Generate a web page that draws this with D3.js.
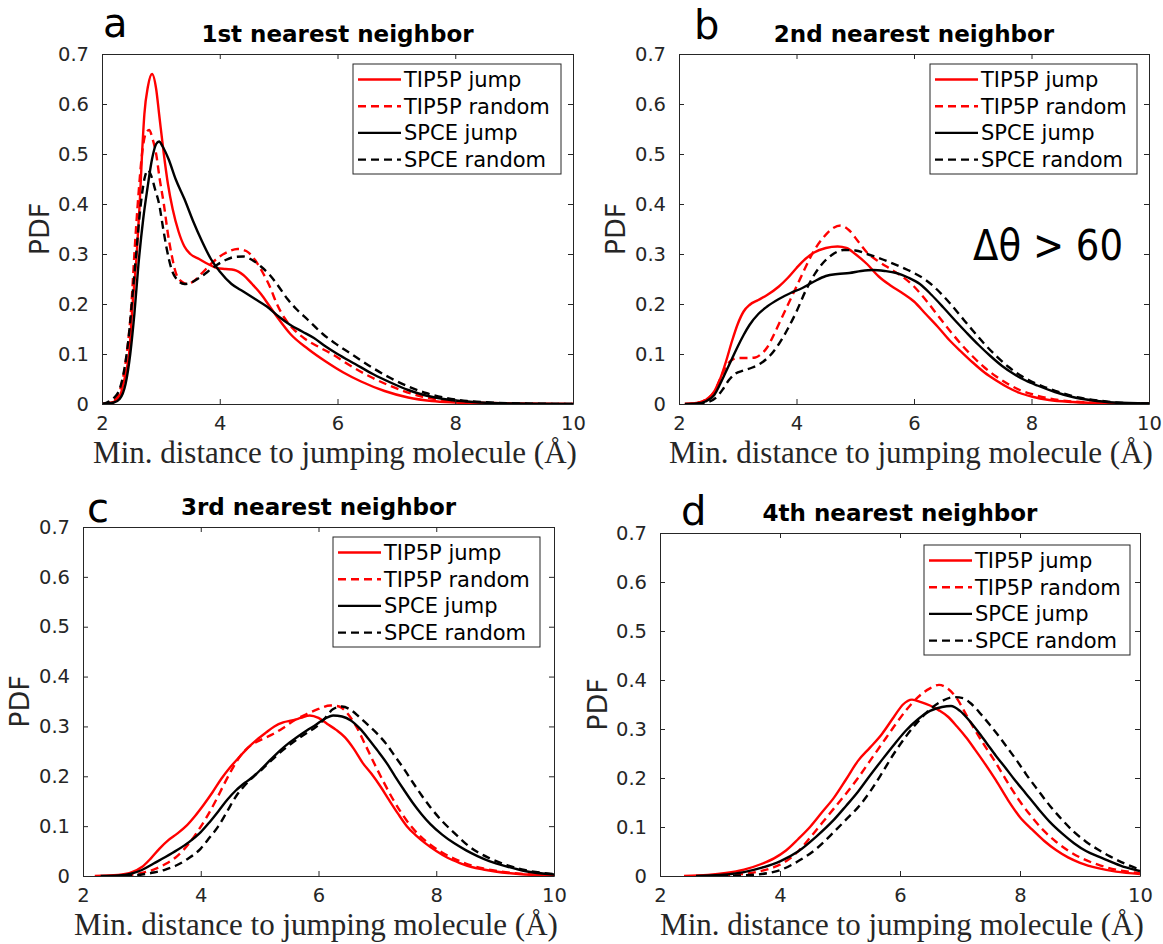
<!DOCTYPE html>
<html>
<head>
<meta charset="utf-8">
<script src="https://cdn.jsdelivr.net/npm/d3@7"></script>
<style>
  html, body { margin: 0; padding: 0; background: #fff; }
  svg { display: block; }
</style>
</head>
<body>
<svg id="chart" width="1163" height="944"></svg>
<script>
// ---------------- DATA ----------------
const seriesNames = ["TIP5P jump", "TIP5P random", "SPCE jump", "SPCE random"];
const panelTitles = ["1st nearest neighbor", "2nd nearest neighbor", "3rd nearest neighbor", "4th nearest neighbor"];
const panelLetters = ["a", "b", "c", "d"];
const xTicks = [2, 4, 6, 8, 10];
const yTicks = [0, 0.1, 0.2, 0.3, 0.4, 0.5, 0.6, 0.7];
const xLabel = "Min. distance to jumping molecule (Å)";
const yLabel = "PDF";
const annotationB = "Δθ > 60";

// panel a: 1st nearest neighbor  [distance Å, PDF]
const aTip5pJump = [[2.0,0],[2.2,0.004],[2.3,0.015],[2.4,0.06],[2.46,0.1],[2.52,0.2],[2.59,0.3],[2.64,0.4],[2.68,0.5],[2.72,0.58],[2.78,0.635],[2.85,0.66],[2.92,0.63],[2.97,0.58],[3.05,0.5],[3.12,0.44],[3.2,0.39],[3.3,0.345],[3.4,0.315],[3.5,0.3],[3.65,0.29],[3.8,0.28],[3.95,0.272],[4.1,0.27],[4.25,0.268],[4.4,0.258],[4.55,0.24],[4.7,0.22],[4.85,0.195],[5.0,0.17],[5.2,0.14],[5.5,0.11],[5.8,0.085],[6.1,0.063],[6.4,0.045],[6.8,0.026],[7.2,0.013],[7.6,0.006],[8.0,0.003],[8.5,0.001],[9.0,0.0004],[10,0]];
const aTip5pRandom = [[2.0,0],[2.2,0.006],[2.3,0.025],[2.37,0.06],[2.42,0.1],[2.5,0.2],[2.55,0.3],[2.62,0.42],[2.68,0.5],[2.74,0.54],[2.8,0.548],[2.86,0.53],[2.92,0.5],[2.98,0.45],[3.05,0.4],[3.12,0.34],[3.18,0.3],[3.26,0.26],[3.35,0.245],[3.45,0.24],[3.55,0.245],[3.7,0.262],[3.85,0.28],[4.0,0.295],[4.15,0.305],[4.3,0.31],[4.45,0.306],[4.6,0.288],[4.72,0.265],[4.85,0.235],[4.97,0.2],[5.1,0.172],[5.25,0.15],[5.45,0.13],[5.7,0.113],[5.95,0.097],[6.2,0.078],[6.5,0.058],[6.8,0.041],[7.1,0.027],[7.4,0.016],[7.8,0.008],[8.2,0.004],[8.6,0.002],[9.2,0.0005],[10,0]];
const aSpceJump = [[2.0,0],[2.2,0.003],[2.3,0.01],[2.4,0.04],[2.48,0.1],[2.55,0.18],[2.62,0.28],[2.7,0.37],[2.77,0.43],[2.85,0.49],[2.92,0.52],[2.97,0.525],[3.03,0.515],[3.13,0.49],[3.25,0.45],[3.4,0.41],[3.55,0.365],[3.7,0.325],[3.85,0.29],[4.0,0.265],[4.2,0.24],[4.4,0.225],[4.6,0.21],[4.8,0.195],[5.0,0.175],[5.2,0.158],[5.4,0.145],[5.6,0.132],[5.8,0.115],[6.0,0.1],[6.3,0.08],[6.6,0.06],[6.9,0.043],[7.2,0.028],[7.5,0.017],[7.8,0.01],[8.2,0.005],[8.6,0.002],[9.2,0.0007],[10,0]];
const aSpceRandom = [[2.0,0],[2.1,0.004],[2.2,0.012],[2.3,0.03],[2.38,0.07],[2.45,0.13],[2.52,0.22],[2.58,0.3],[2.65,0.39],[2.72,0.45],[2.78,0.468],[2.84,0.455],[2.9,0.43],[2.97,0.4],[3.04,0.35],[3.1,0.31],[3.18,0.27],[3.28,0.248],[3.4,0.24],[3.5,0.242],[3.65,0.252],[3.8,0.265],[3.95,0.278],[4.1,0.288],[4.25,0.294],[4.4,0.295],[4.55,0.288],[4.7,0.275],[4.85,0.258],[5.0,0.235],[5.15,0.21],[5.3,0.19],[5.5,0.168],[5.75,0.14],[6.0,0.118],[6.3,0.095],[6.6,0.072],[6.9,0.052],[7.2,0.035],[7.5,0.022],[7.8,0.013],[8.2,0.006],[8.6,0.003],[9.2,0.001],[10,0]];

// panel b: 2nd nearest neighbor
const bTip5pJump = [[2.1,0],[2.3,0.002],[2.45,0.008],[2.6,0.025],[2.7,0.05],[2.8,0.085],[2.9,0.125],[3.0,0.16],[3.1,0.185],[3.2,0.198],[3.35,0.208],[3.5,0.218],[3.7,0.235],[3.85,0.252],[4.0,0.272],[4.15,0.29],[4.3,0.303],[4.5,0.312],[4.7,0.315],[4.85,0.312],[5.0,0.3],[5.2,0.28],[5.4,0.255],[5.6,0.237],[5.8,0.222],[6.0,0.205],[6.2,0.18],[6.4,0.155],[6.6,0.128],[6.8,0.105],[7.0,0.083],[7.2,0.063],[7.4,0.047],[7.6,0.033],[7.8,0.022],[8.0,0.015],[8.3,0.008],[8.7,0.004],[9.2,0.0015],[10,0]];
const bTip5pRandom = [[2.1,0],[2.3,0.002],[2.45,0.008],[2.6,0.025],[2.7,0.05],[2.8,0.075],[2.9,0.088],[3.0,0.092],[3.15,0.092],[3.3,0.093],[3.4,0.1],[3.5,0.113],[3.6,0.135],[3.7,0.16],[3.8,0.185],[3.9,0.21],[4.0,0.235],[4.1,0.26],[4.2,0.285],[4.3,0.307],[4.45,0.332],[4.6,0.35],[4.75,0.357],[4.9,0.347],[5.05,0.325],[5.2,0.303],[5.4,0.285],[5.6,0.27],[5.8,0.255],[6.0,0.235],[6.2,0.208],[6.4,0.178],[6.6,0.148],[6.8,0.12],[7.0,0.095],[7.2,0.073],[7.4,0.055],[7.6,0.04],[7.8,0.028],[8.0,0.02],[8.3,0.011],[8.7,0.005],[9.2,0.002],[10,0]];
const bSpceJump = [[2.1,0],[2.3,0.001],[2.45,0.005],[2.6,0.018],[2.7,0.04],[2.8,0.065],[2.9,0.09],[3.0,0.115],[3.1,0.138],[3.2,0.158],[3.35,0.18],[3.5,0.195],[3.7,0.21],[3.9,0.222],[4.1,0.232],[4.3,0.245],[4.5,0.256],[4.7,0.26],[4.9,0.262],[5.1,0.266],[5.3,0.268],[5.5,0.266],[5.7,0.262],[5.9,0.253],[6.1,0.24],[6.3,0.218],[6.5,0.193],[6.7,0.167],[6.9,0.142],[7.1,0.118],[7.3,0.096],[7.5,0.076],[7.7,0.06],[7.9,0.047],[8.1,0.037],[8.4,0.024],[8.7,0.014],[9.0,0.008],[9.4,0.003],[10,0.001]];
const bSpceRandom = [[2.3,0],[2.5,0.004],[2.65,0.015],[2.75,0.03],[2.85,0.048],[2.95,0.06],[3.1,0.067],[3.25,0.073],[3.4,0.082],[3.55,0.097],[3.7,0.12],[3.85,0.15],[4.0,0.185],[4.15,0.225],[4.3,0.258],[4.45,0.282],[4.6,0.298],[4.8,0.308],[5.0,0.307],[5.2,0.3],[5.4,0.292],[5.6,0.283],[5.8,0.273],[6.0,0.262],[6.2,0.248],[6.4,0.228],[6.6,0.203],[6.8,0.175],[7.0,0.147],[7.2,0.12],[7.4,0.096],[7.6,0.075],[7.8,0.058],[8.0,0.045],[8.2,0.035],[8.5,0.023],[8.8,0.013],[9.2,0.006],[9.6,0.002],[10,0.001]];

// panel c: 3rd nearest neighbor
const cTip5pJump = [[2.2,0],[2.6,0.002],[2.8,0.006],[3.0,0.018],[3.15,0.035],[3.3,0.055],[3.45,0.072],[3.6,0.085],[3.75,0.1],[3.9,0.12],[4.05,0.143],[4.2,0.168],[4.35,0.195],[4.5,0.218],[4.65,0.238],[4.8,0.257],[4.95,0.273],[5.1,0.287],[5.25,0.3],[5.4,0.308],[5.55,0.312],[5.7,0.317],[5.85,0.322],[6.0,0.317],[6.15,0.305],[6.3,0.293],[6.45,0.278],[6.6,0.255],[6.75,0.227],[6.9,0.205],[7.05,0.18],[7.2,0.152],[7.35,0.125],[7.5,0.1],[7.65,0.082],[7.8,0.067],[8.0,0.05],[8.2,0.036],[8.4,0.026],[8.6,0.018],[8.8,0.013],[9.0,0.009],[9.4,0.004],[10,0.001]];
const cTip5pRandom = [[2.5,0],[2.8,0.002],[3.0,0.006],[3.2,0.013],[3.4,0.024],[3.6,0.04],[3.8,0.065],[3.95,0.09],[4.1,0.118],[4.25,0.15],[4.4,0.185],[4.55,0.218],[4.7,0.245],[4.85,0.262],[5.0,0.272],[5.2,0.283],[5.4,0.297],[5.6,0.313],[5.8,0.325],[6.0,0.335],[6.2,0.342],[6.35,0.34],[6.5,0.325],[6.65,0.298],[6.8,0.262],[6.95,0.225],[7.1,0.19],[7.25,0.157],[7.4,0.128],[7.55,0.103],[7.7,0.083],[7.9,0.063],[8.1,0.047],[8.3,0.035],[8.5,0.025],[8.8,0.015],[9.1,0.009],[9.5,0.004],[10,0.001]];
const cSpceJump = [[2.3,0],[2.6,0.001],[2.8,0.004],[3.0,0.012],[3.2,0.025],[3.4,0.038],[3.6,0.052],[3.8,0.068],[4.0,0.088],[4.15,0.108],[4.3,0.13],[4.45,0.153],[4.6,0.172],[4.75,0.187],[4.9,0.2],[5.05,0.217],[5.2,0.235],[5.35,0.252],[5.5,0.267],[5.65,0.28],[5.8,0.292],[5.95,0.303],[6.1,0.315],[6.25,0.322],[6.4,0.32],[6.55,0.312],[6.7,0.296],[6.85,0.275],[7.0,0.252],[7.15,0.228],[7.3,0.2],[7.45,0.173],[7.6,0.147],[7.75,0.124],[7.9,0.104],[8.1,0.083],[8.3,0.066],[8.5,0.052],[8.7,0.04],[8.9,0.03],[9.2,0.019],[9.5,0.01],[10,0.003]];
const cSpceRandom = [[2.7,0],[3.0,0.003],[3.2,0.007],[3.4,0.013],[3.6,0.022],[3.8,0.036],[4.0,0.055],[4.15,0.077],[4.3,0.1],[4.45,0.13],[4.6,0.16],[4.75,0.182],[4.9,0.2],[5.05,0.215],[5.2,0.232],[5.35,0.248],[5.5,0.262],[5.65,0.275],[5.8,0.287],[5.95,0.298],[6.1,0.315],[6.25,0.335],[6.4,0.34],[6.55,0.333],[6.7,0.318],[6.85,0.302],[7.0,0.285],[7.15,0.265],[7.3,0.24],[7.45,0.215],[7.6,0.188],[7.75,0.162],[7.9,0.138],[8.1,0.11],[8.3,0.087],[8.5,0.065],[8.7,0.048],[8.9,0.036],[9.2,0.022],[9.5,0.012],[10,0.004]];

// panel d: 4th nearest neighbor
const dTip5pJump = [[2.4,0],[2.8,0.002],[3.1,0.006],[3.4,0.013],[3.7,0.025],[3.9,0.036],[4.1,0.052],[4.3,0.075],[4.5,0.1],[4.7,0.13],[4.9,0.16],[5.1,0.197],[5.3,0.235],[5.5,0.262],[5.7,0.29],[5.9,0.325],[6.05,0.35],[6.2,0.36],[6.35,0.355],[6.5,0.348],[6.65,0.338],[6.8,0.325],[6.95,0.305],[7.1,0.283],[7.25,0.258],[7.4,0.232],[7.6,0.195],[7.8,0.155],[8.0,0.12],[8.2,0.095],[8.4,0.072],[8.6,0.053],[8.8,0.038],[9.0,0.027],[9.3,0.016],[9.6,0.009],[10,0.004]];
const dTip5pRandom = [[2.6,0],[3.2,0.002],[3.6,0.008],[3.9,0.018],[4.1,0.03],[4.3,0.05],[4.5,0.078],[4.7,0.108],[4.9,0.138],[5.1,0.168],[5.3,0.2],[5.5,0.235],[5.7,0.27],[5.9,0.305],[6.1,0.338],[6.3,0.365],[6.5,0.383],[6.65,0.39],[6.8,0.382],[6.95,0.362],[7.1,0.33],[7.25,0.298],[7.4,0.268],[7.55,0.24],[7.7,0.21],[7.85,0.18],[8.0,0.152],[8.2,0.12],[8.4,0.092],[8.6,0.07],[8.8,0.052],[9.0,0.038],[9.3,0.023],[9.6,0.013],[10,0.006]];
const dSpceJump = [[2.6,0],[3.0,0.002],[3.4,0.008],[3.7,0.017],[4.0,0.03],[4.3,0.05],[4.6,0.08],[4.9,0.115],[5.1,0.143],[5.3,0.172],[5.5,0.205],[5.7,0.237],[5.9,0.268],[6.1,0.297],[6.3,0.32],[6.5,0.337],[6.7,0.345],[6.85,0.347],[7.0,0.337],[7.15,0.318],[7.3,0.295],[7.45,0.27],[7.6,0.245],[7.75,0.222],[7.9,0.198],[8.1,0.168],[8.3,0.138],[8.5,0.11],[8.7,0.087],[8.9,0.067],[9.1,0.051],[9.3,0.04],[9.5,0.03],[9.75,0.018],[10,0.01]];
const dSpceRandom = [[3.0,0],[3.5,0.002],[3.8,0.006],[4.0,0.012],[4.3,0.03],[4.6,0.055],[4.9,0.09],[5.1,0.115],[5.3,0.14],[5.5,0.172],[5.7,0.21],[5.9,0.25],[6.1,0.285],[6.3,0.315],[6.5,0.34],[6.7,0.357],[6.9,0.365],[7.05,0.363],[7.2,0.35],[7.35,0.33],[7.5,0.308],[7.65,0.285],[7.8,0.26],[7.95,0.235],[8.1,0.208],[8.3,0.175],[8.5,0.143],[8.7,0.115],[8.9,0.09],[9.1,0.07],[9.3,0.054],[9.5,0.04],[9.75,0.025],[10,0.013]];

const panelData = [
  [aTip5pJump, aTip5pRandom, aSpceJump, aSpceRandom],
  [bTip5pJump, bTip5pRandom, bSpceJump, bSpceRandom],
  [cTip5pJump, cTip5pRandom, cSpceJump, cSpceRandom],
  [dTip5pJump, dTip5pRandom, dSpceJump, dSpceRandom]
];

// ---------------- LAYOUT / STYLE ----------------
const seriesStyle = [
  { color: "#ff0000", dash: null },
  { color: "#ff0000", dash: "8,5" },
  { color: "#000000", dash: null },
  { color: "#000000", dash: "8,5" }
];
const layout = [
  { l: 102, r: 573, t: 54, b: 404, legX: 353, legY: 64, legW: 208, letterX: 103, letterY: 37, titleY: 42, ylabX: 39, xlabY: 463, xlabC: 335 },
  { l: 679, r: 1149, t: 54, b: 404, legX: 930, legY: 64, legW: 207, letterX: 694, letterY: 39, titleY: 42, ylabX: 615, xlabY: 463, xlabC: 911 },
  { l: 83, r: 554, t: 527, b: 876, legX: 333, legY: 537, legW: 207, letterX: 87, letterY: 522, titleY: 515, ylabX: 19, xlabY: 935, xlabC: 316 },
  { l: 660, r: 1140, t: 533, b: 876, legX: 924, legY: 545, legW: 206, letterX: 681, letterY: 525, titleY: 521, ylabX: 597, xlabY: 935, xlabC: 902 }
];
const axisColor = "#262626";
const sans = "'DejaVu Sans', sans-serif";
const serif = "'Liberation Serif', 'DejaVu Serif', serif";
const xLabelWidth = 484;

const svg = d3.select("#chart");
svg.append("rect").attr("width", 1163).attr("height", 944).attr("fill", "#fff");

// measure serif label to fit the target width with a real font size
const probe = svg.append("text").style("font-family", serif).style("font-size", "26px").text(xLabel);
const natural = probe.node().getComputedTextLength() || 440;
probe.remove();
const xLabelSize = Math.min(33, 26 * xLabelWidth / natural);

panelData.forEach((series, i) => {
  const L = layout[i];
  const x = d3.scaleLinear().domain([2, 10]).range([L.l, L.r]);
  const y = d3.scaleLinear().domain([0, 0.7]).range([L.b, L.t]);
  const g = svg.append("g");

  const clipId = "clip" + i;
  svg.append("clipPath").attr("id", clipId)
    .append("rect").attr("x", L.l).attr("y", L.t - 2).attr("width", L.r - L.l).attr("height", L.b - L.t + 2);
  const line = d3.line().x(d => x(d[0])).y(d => y(d[1])).curve(d3.curveMonotoneX);
  const cg = g.append("g").attr("clip-path", `url(#${clipId})`);
  series.forEach((pts, k) => {
    cg.append("path")
      .attr("d", line(pts))
      .attr("fill", "none")
      .attr("stroke", seriesStyle[k].color)
      .attr("stroke-width", 2.4)
      .attr("stroke-linejoin", "round")
      .attr("stroke-dasharray", seriesStyle[k].dash);
  });

  const tickFmt = d => d === 0 ? "0" : d3.format(".1f")(d);
  const axB = g.append("g").attr("transform", `translate(0,${L.b})`)
    .call(d3.axisBottom(x).tickValues(xTicks).tickSizeInner(-5).tickSizeOuter(0).tickPadding(12).tickFormat(d3.format("d")));
  const axL = g.append("g").attr("transform", `translate(${L.l},0)`)
    .call(d3.axisLeft(y).tickValues(yTicks).tickSizeInner(-5).tickSizeOuter(0).tickPadding(13).tickFormat(tickFmt));
  const axT = g.append("g").attr("transform", `translate(0,${L.t})`)
    .call(d3.axisTop(x).tickValues(xTicks).tickSizeInner(-5).tickSizeOuter(0).tickFormat(""));
  const axR = g.append("g").attr("transform", `translate(${L.r},0)`)
    .call(d3.axisRight(y).tickValues(yTicks).tickSizeInner(-5).tickSizeOuter(0).tickFormat(""));
  [axB, axL, axT, axR].forEach(a => {
    a.select(".domain").attr("stroke", axisColor).attr("stroke-width", 1);
    a.selectAll(".tick line").attr("stroke", axisColor).attr("stroke-width", 1);
    a.selectAll(".tick text").attr("fill", axisColor).style("font-family", sans).style("font-size", "19.5px");
  });

  // legend
  const lg = g.append("g");
  const rowH = 26.7;
  lg.append("rect").attr("x", L.legX).attr("y", L.legY).attr("width", L.legW).attr("height", 110)
    .attr("fill", "#fff").attr("stroke", axisColor).attr("stroke-width", 1);
  seriesNames.forEach((name, k) => {
    const cy = L.legY + 15.5 + k * rowH;
    lg.append("line").attr("x1", L.legX + 5).attr("x2", L.legX + 48).attr("y1", cy).attr("y2", cy)
      .attr("stroke", seriesStyle[k].color).attr("stroke-width", 2.4)
      .attr("stroke-dasharray", seriesStyle[k].dash);
    lg.append("text").attr("x", L.legX + 51).attr("y", cy).attr("dy", "0.36em")
      .style("font-family", sans).style("font-size", "21px").attr("fill", "#000").text(name);
  });

  // title
  g.append("text").attr("x", (L.l + L.r) / 2).attr("y", L.titleY).attr("text-anchor", "middle")
    .style("font-family", sans).style("font-weight", "bold").style("font-size", "23px").text(panelTitles[i]);
  // panel letter
  g.append("text").attr("x", L.letterX).attr("y", L.letterY)
    .style("font-family", sans).style("font-size", "40px").text(panelLetters[i]);
  // y label
  g.append("text").attr("transform", `translate(${L.ylabX + 10},${(L.t + L.b) / 2}) rotate(-90)`)
    .attr("text-anchor", "middle")
    .style("font-family", sans).style("font-size", "27px").attr("fill", axisColor).text(yLabel);
  // x label
  g.append("text").attr("x", L.xlabC).attr("y", L.xlabY).attr("text-anchor", "middle")
    .style("font-family", serif).style("font-size", xLabelSize + "px").attr("fill", axisColor).text(xLabel);
});

// annotation in panel b
svg.append("text").attr("x", 973).attr("y", 260)
  .attr("textLength", 150).attr("lengthAdjust", "spacingAndGlyphs")
  .style("font-family", sans).style("font-size", "43px").attr("fill", "#000").text(annotationB);
</script>
</body>
</html>
